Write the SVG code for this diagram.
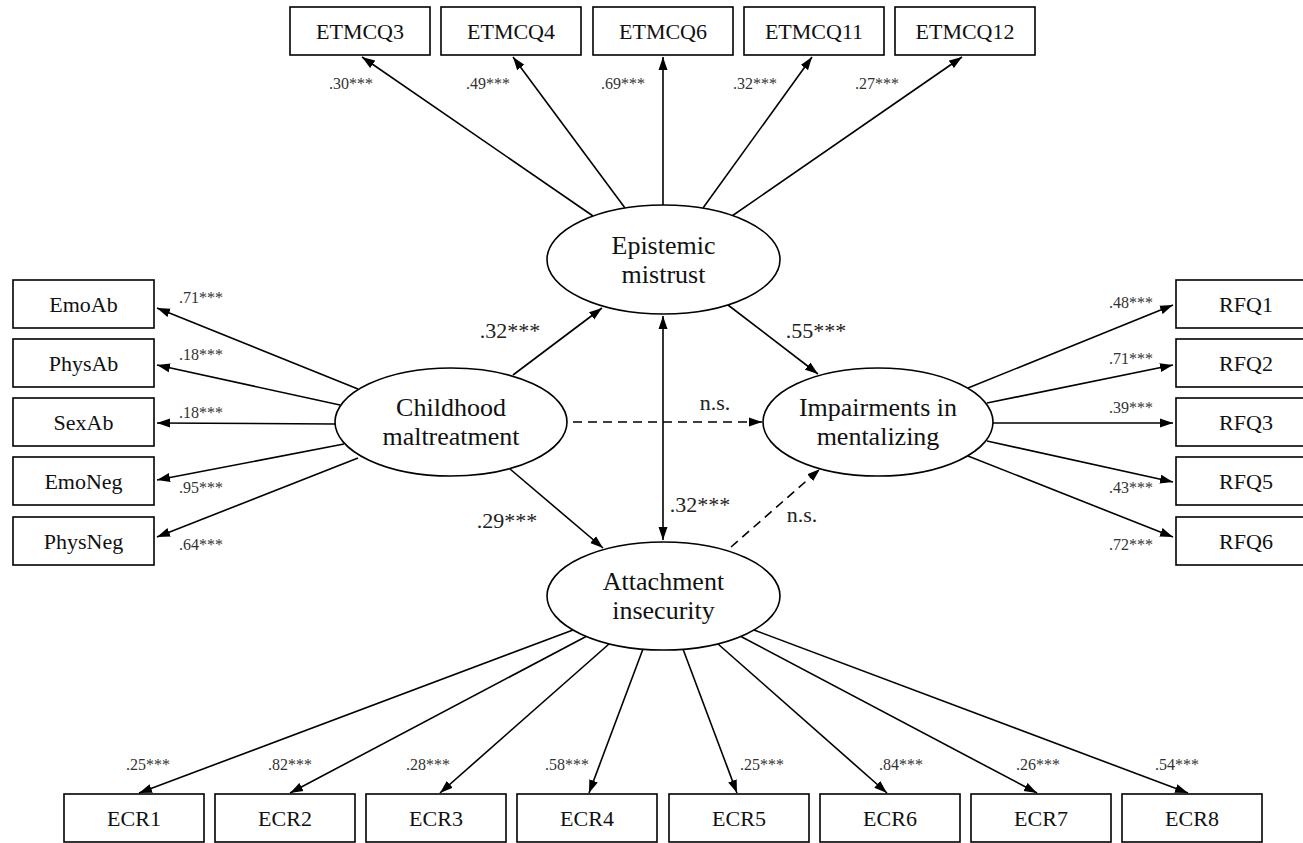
<svg xmlns="http://www.w3.org/2000/svg" width="1303" height="843" viewBox="0 0 1303 843">
<defs>
<marker id="ah" markerUnits="userSpaceOnUse" markerWidth="14" markerHeight="10" refX="13" refY="5" orient="auto-start-reverse">
<path d="M0,0.5 L13,5 L0,9.5 Z" fill="#000"/>
</marker>
<style>
.box{fill:#fff;stroke:#000;stroke-width:1.6}
.ell{fill:#fff;stroke:#000;stroke-width:1.6}
.bt{font-family:"Liberation Serif","Times New Roman",serif;font-size:22px;fill:#111;text-anchor:middle}
.et{font-family:"Liberation Serif","Times New Roman",serif;font-size:26px;fill:#111;text-anchor:middle}
.sl{font-family:"Liberation Serif","Times New Roman",serif;font-size:16px;fill:#333}
.ml{font-family:"Liberation Serif","Times New Roman",serif;font-size:22px;fill:#222}
.ln{stroke:#000;stroke-width:1.6;fill:none;marker-end:url(#ah)}
.dl{stroke:#000;stroke-width:1.6;fill:none;stroke-dasharray:9,6;marker-end:url(#ah)}
</style>
</defs>
<rect width="1303" height="843" fill="#fff"/>

<g id="connectors">
<!-- top indicators -->
<line class="ln" x1="593" y1="216" x2="362" y2="57"/>
<line class="ln" x1="625" y1="208" x2="513" y2="57"/>
<line class="ln" x1="663" y1="205" x2="663" y2="57"/>
<line class="ln" x1="703" y1="208" x2="812" y2="57"/>
<line class="ln" x1="732" y1="216" x2="962" y2="57"/>
<!-- left indicators -->
<line class="ln" x1="358" y1="389" x2="157" y2="308"/>
<line class="ln" x1="340" y1="405" x2="157" y2="365"/>
<line class="ln" x1="335" y1="424" x2="157" y2="423"/>
<line class="ln" x1="344" y1="444" x2="157" y2="480"/>
<line class="ln" x1="358" y1="458" x2="157" y2="537"/>
<!-- right indicators -->
<line class="ln" x1="968" y1="388" x2="1173" y2="305"/>
<line class="ln" x1="987" y1="403" x2="1173" y2="365"/>
<line class="ln" x1="993" y1="423" x2="1173" y2="423"/>
<line class="ln" x1="987" y1="441" x2="1173" y2="482"/>
<line class="ln" x1="968" y1="456" x2="1173" y2="537"/>
<!-- bottom indicators -->
<line class="ln" x1="573" y1="630" x2="139" y2="793"/>
<line class="ln" x1="587" y1="636" x2="290" y2="793"/>
<line class="ln" x1="609" y1="644" x2="440" y2="793"/>
<line class="ln" x1="643" y1="649" x2="589" y2="793"/>
<line class="ln" x1="683" y1="649" x2="737" y2="793"/>
<line class="ln" x1="718" y1="644" x2="887" y2="793"/>
<line class="ln" x1="740" y1="636" x2="1037" y2="793"/>
<line class="ln" x1="754" y1="630" x2="1188" y2="793"/>
<!-- structural paths -->
<line class="ln" x1="513" y1="375" x2="602" y2="308"/>
<line class="ln" x1="728" y1="305" x2="818" y2="374"/>
<line class="ln" x1="510" y1="469" x2="603" y2="548"/>
<line class="ln" x1="663" y1="540" x2="663" y2="316" marker-start="url(#ah)"/>
<line class="dl" x1="573" y1="422" x2="762" y2="422"/>
<line class="dl" x1="731" y1="547" x2="820" y2="469"/>
</g>

<g id="labels">
<text class="sl" x="351" y="89" text-anchor="middle">.30***</text>
<text class="sl" x="488" y="89" text-anchor="middle">.49***</text>
<text class="sl" x="623" y="89" text-anchor="middle">.69***</text>
<text class="sl" x="755" y="89" text-anchor="middle">.32***</text>
<text class="sl" x="877" y="89" text-anchor="middle">.27***</text>
<text class="sl" x="179" y="303">.71***</text>
<text class="sl" x="179" y="360">.18***</text>
<text class="sl" x="179" y="418">.18***</text>
<text class="sl" x="179" y="493">.95***</text>
<text class="sl" x="179" y="550">.64***</text>
<text class="sl" x="1153" y="308" text-anchor="end">.48***</text>
<text class="sl" x="1153" y="364" text-anchor="end">.71***</text>
<text class="sl" x="1153" y="413" text-anchor="end">.39***</text>
<text class="sl" x="1153" y="493" text-anchor="end">.43***</text>
<text class="sl" x="1153" y="550" text-anchor="end">.72***</text>
<text class="sl" x="148" y="770" text-anchor="middle">.25***</text>
<text class="sl" x="290" y="770" text-anchor="middle">.82***</text>
<text class="sl" x="428" y="770" text-anchor="middle">.28***</text>
<text class="sl" x="567" y="770" text-anchor="middle">.58***</text>
<text class="sl" x="762" y="770" text-anchor="middle">.25***</text>
<text class="sl" x="901" y="770" text-anchor="middle">.84***</text>
<text class="sl" x="1038" y="770" text-anchor="middle">.26***</text>
<text class="sl" x="1177" y="770" text-anchor="middle">.54***</text>
<text class="ml" x="510" y="338" text-anchor="middle">.32***</text>
<text class="ml" x="816" y="338" text-anchor="middle">.55***</text>
<text class="ml" x="715" y="410" text-anchor="middle">n.s.</text>
<text class="ml" x="507" y="528" text-anchor="middle">.29***</text>
<text class="ml" x="700" y="512" text-anchor="middle">.32***</text>
<text class="ml" x="802" y="522" text-anchor="middle">n.s.</text>
</g>

<g id="n-ETMCQ3"><rect class="box" x="290" y="7" width="140" height="48"/><text class="bt" x="360" y="39">ETMCQ3</text></g>
<g id="n-ETMCQ4"><rect class="box" x="441" y="7" width="140" height="48"/><text class="bt" x="511" y="39">ETMCQ4</text></g>
<g id="n-ETMCQ6"><rect class="box" x="593" y="7" width="140" height="48"/><text class="bt" x="663" y="39">ETMCQ6</text></g>
<g id="n-ETMCQ11"><rect class="box" x="744" y="7" width="140" height="48"/><text class="bt" x="814" y="39">ETMCQ11</text></g>
<g id="n-ETMCQ12"><rect class="box" x="895" y="7" width="140" height="48"/><text class="bt" x="965" y="39">ETMCQ12</text></g>

<g id="n-EmoAb"><rect class="box" x="13" y="280" width="141" height="48"/><text class="bt" x="83.5" y="312">EmoAb</text></g>
<g id="n-PhysAb"><rect class="box" x="13" y="339" width="141" height="48"/><text class="bt" x="83.5" y="371">PhysAb</text></g>
<g id="n-SexAb"><rect class="box" x="13" y="398" width="141" height="48"/><text class="bt" x="83.5" y="430">SexAb</text></g>
<g id="n-EmoNeg"><rect class="box" x="13" y="457" width="141" height="48"/><text class="bt" x="83.5" y="489">EmoNeg</text></g>
<g id="n-PhysNeg"><rect class="box" x="13" y="517" width="141" height="48"/><text class="bt" x="83.5" y="549">PhysNeg</text></g>

<g id="n-RFQ1"><rect class="box" x="1176" y="280" width="141" height="48"/><text class="bt" x="1246" y="312">RFQ1</text></g>
<g id="n-RFQ2"><rect class="box" x="1176" y="339" width="141" height="48"/><text class="bt" x="1246" y="371">RFQ2</text></g>
<g id="n-RFQ3"><rect class="box" x="1176" y="398" width="141" height="48"/><text class="bt" x="1246" y="430">RFQ3</text></g>
<g id="n-RFQ5"><rect class="box" x="1176" y="457" width="141" height="48"/><text class="bt" x="1246" y="489">RFQ5</text></g>
<g id="n-RFQ6"><rect class="box" x="1176" y="517" width="141" height="48"/><text class="bt" x="1246" y="549">RFQ6</text></g>

<g id="n-ECR1"><rect class="box" x="64" y="794" width="140" height="48"/><text class="bt" x="134" y="826">ECR1</text></g>
<g id="n-ECR2"><rect class="box" x="215" y="794" width="140" height="48"/><text class="bt" x="285" y="826">ECR2</text></g>
<g id="n-ECR3"><rect class="box" x="366" y="794" width="140" height="48"/><text class="bt" x="436" y="826">ECR3</text></g>
<g id="n-ECR4"><rect class="box" x="517" y="794" width="140" height="48"/><text class="bt" x="587" y="826">ECR4</text></g>
<g id="n-ECR5"><rect class="box" x="669" y="794" width="140" height="48"/><text class="bt" x="739" y="826">ECR5</text></g>
<g id="n-ECR6"><rect class="box" x="820" y="794" width="140" height="48"/><text class="bt" x="890" y="826">ECR6</text></g>
<g id="n-ECR7"><rect class="box" x="971" y="794" width="140" height="48"/><text class="bt" x="1041" y="826">ECR7</text></g>
<g id="n-ECR8"><rect class="box" x="1122" y="794" width="140" height="48"/><text class="bt" x="1192" y="826">ECR8</text></g>

<g id="n-epistemic"><ellipse class="ell" cx="663.5" cy="259.5" rx="116.5" ry="54.5"/><text class="et" x="663.5" y="254">Epistemic</text><text class="et" x="663.5" y="283">mistrust</text></g>
<g id="n-childhood"><ellipse class="ell" cx="451" cy="422" rx="116" ry="54"/><text class="et" x="451" y="416">Childhood</text><text class="et" x="451" y="445">maltreatment</text></g>
<g id="n-impairments"><ellipse class="ell" cx="878" cy="422" rx="115" ry="54"/><text class="et" x="878" y="416">Impairments in</text><text class="et" x="878" y="445">mentalizing</text></g>
<g id="n-attachment"><ellipse class="ell" cx="663.5" cy="596" rx="116.5" ry="54"/><text class="et" x="663.5" y="590">Attachment</text><text class="et" x="663.5" y="619">insecurity</text></g>
</svg>
